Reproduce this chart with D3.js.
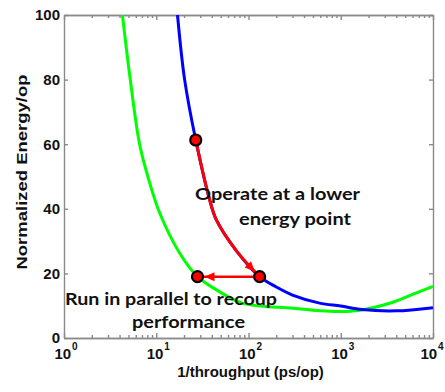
<!DOCTYPE html>
<html>
<head>
<meta charset="utf-8">
<script src="https://cdn.jsdelivr.net/npm/d3@7"></script>
<style>
  body { margin: 0; background: #fff; }
  svg { display: block; }
</style>
</head>
<body>
<div id="chart"></div>
<script>
// curve samples (x = 1/throughput ps/op, y = normalized energy/op)
var greenX = [4.3, 5.2, 6.6, 8.3, 10.9, 17.9, 28, 45, 86, 300, 600, 1000, 1700, 3600, 6000, 10000];
var greenY = [100, 80.5, 60, 49, 38.7, 26.3, 19, 14.9, 10.8, 9.2, 8.4, 8.2, 8.7, 11, 13.5, 16];

var blueX = [17, 20.3, 26.8, 38, 45, 74, 132, 200, 300, 590, 1000, 1700, 4000, 10000];
var blueY = [100, 80, 61.3, 42.7, 36.5, 27, 19, 15.8, 13.3, 10.8, 9.9, 8.8, 8.4, 9.4];

// red highlighted stretch of the blue curve (index range) and the marked points
var redFrom = 2, redTo = 6;
var pointX = [26.8, 132, 28];
var pointY = [61.3, 19, 19];

var xMajor = [1, 10, 100, 1000, 10000];
var yTicks = [0, 20, 40, 60, 80, 100];

var width = 445, height = 392;
var margin = {top: 15, right: 12, bottom: 54, left: 64};

var svg = d3.select("#chart").append("svg")
    .attr("width", width)
    .attr("height", height);

var x = d3.scaleLog()
    .domain([1, 10000])
    .range([margin.left, width - margin.right]);

var y = d3.scaleLinear()
    .domain([0, 100])
    .range([height - margin.bottom, margin.top]);

var xMinor = [];
xMajor.slice(0, -1).forEach(function (d) {
    for (var k = 2; k < 10; k++) xMinor.push(d * k);
});

var axisColor = "#8a8a8a";

svg.append("defs").append("clipPath")
    .attr("id", "clip")
    .append("rect")
    .attr("x", x.range()[0])
    .attr("y", y.range()[1])
    .attr("width", x.range()[1] - x.range()[0])
    .attr("height", y.range()[0] - y.range()[1]);

var marker = svg.select("defs").append("marker")
    .attr("id", "head")
    .attr("viewBox", "-2 -6 24 12")
    .attr("markerWidth", 24)
    .attr("markerHeight", 12)
    .attr("markerUnits", "userSpaceOnUse")
    .attr("refX", 17)
    .attr("refY", 0)
    .attr("orient", "auto");
marker.append("path")
    .attr("d", "M0,-4.5L10,0L0,4.5Z")
    .attr("fill", "#ff0000");

// axes: ticks point inward
function styleAxis(g) {
    g.selectAll("path, line").attr("stroke", axisColor).attr("stroke-width", 1.4);
    g.selectAll("text").remove();
}

svg.append("g")
    .attr("transform", "translate(0," + y(0) + ")")
    .call(d3.axisBottom(x).tickValues(xMinor).tickSizeInner(-3).tickSizeOuter(0).tickFormat(""))
    .call(styleAxis);
svg.append("g")
    .attr("transform", "translate(0," + y(0) + ")")
    .call(d3.axisBottom(x).tickValues(xMajor).tickSizeInner(-5).tickSizeOuter(0).tickFormat(""))
    .call(styleAxis);
svg.append("g")
    .attr("transform", "translate(0," + y(100) + ")")
    .call(d3.axisTop(x).tickValues(xMinor).tickSizeInner(-3).tickSizeOuter(0).tickFormat(""))
    .call(styleAxis);
svg.append("g")
    .attr("transform", "translate(0," + y(100) + ")")
    .call(d3.axisTop(x).tickValues(xMajor).tickSizeInner(-5).tickSizeOuter(0).tickFormat(""))
    .call(styleAxis);
svg.append("g")
    .attr("transform", "translate(" + x(1) + ",0)")
    .call(d3.axisLeft(y).tickValues(yTicks).tickSizeInner(-4).tickSizeOuter(0).tickFormat(""))
    .call(styleAxis);
svg.append("g")
    .attr("transform", "translate(" + x(10000) + ",0)")
    .call(d3.axisRight(y).tickValues(yTicks).tickSizeInner(-4).tickSizeOuter(0).tickFormat(""))
    .call(styleAxis);

// tick labels
svg.append("g").selectAll("text")
    .data(yTicks)
    .enter().append("text")
    .attr("x", x(1) - 4)
    .attr("y", function (d) { return y(d); })
    .attr("dy", "0.36em")
    .attr("text-anchor", "end")
    .style("font-family", "Liberation Sans, Arial, sans-serif")
    .style("font-weight", "bold")
    .style("font-size", "15px")
    .style("fill", "#111")
    .text(function (d) { return d; });

var xl = svg.append("g").selectAll("text")
    .data(xMajor)
    .enter().append("text")
    .attr("x", function (d) { return x(d) + 2; })
    .attr("y", y(0) + 21)
    .attr("text-anchor", "middle")
    .style("font-family", "Liberation Sans, Arial, sans-serif")
    .style("font-weight", "bold")
    .style("font-size", "15px")
    .style("fill", "#111");
xl.append("tspan").text("10");
xl.append("tspan")
    .attr("dx", 1)
    .attr("dy", -9)
    .style("font-size", "10px")
    .text(function (d) { return Math.round(Math.log10(d)); });
xl.filter(function (d) { return d === 10000; })
    .attr("x", function (d) { return x(d) - 1; });

// axis titles
svg.append("text")
    .attr("x", (x(1) + x(10000)) / 2 + 2)
    .attr("y", height - 15)
    .attr("text-anchor", "middle")
    .style("font-family", "Liberation Sans, Arial, sans-serif")
    .style("font-weight", "bold")
    .style("font-size", "15px")
    .style("fill", "#111")
    .text("1/throughput (ps/op)");

svg.append("text")
    .attr("transform", "translate(27,172) rotate(-90)")
    .attr("text-anchor", "middle")
    .attr("textLength", 195)
    .attr("lengthAdjust", "spacingAndGlyphs")
    .style("font-family", "Liberation Sans, Arial, sans-serif")
    .style("font-weight", "bold")
    .style("font-size", "14px")
    .style("fill", "#111")
    .text("Normalized Energy/op");

// curves
var line = d3.line()
    .x(function (d) { return x(d[0]); })
    .y(function (d) { return y(d[1]); })
    .curve(d3.curveCatmullRom.alpha(0.5));

var green = d3.zip(greenX, greenY);
var blue = d3.zip(blueX, blueY);

var plot = svg.append("g").attr("clip-path", "url(#clip)");

plot.append("path")
    .attr("d", line(green))
    .attr("fill", "none")
    .attr("stroke", "#00ff00")
    .attr("stroke-width", 3);

plot.append("path")
    .attr("d", line(blue))
    .attr("fill", "none")
    .attr("stroke", "#0000ff")
    .attr("stroke-width", 3);

plot.append("path")
    .attr("d", line(blue.slice(redFrom, redTo + 1)))
    .attr("fill", "none")
    .attr("stroke", "#ff0000")
    .attr("stroke-width", 3)
    .attr("marker-end", "url(#head)");

// horizontal arrow: back to the green curve
plot.append("path")
    .attr("d", d3.line()([[x(pointX[1]), y(pointY[1])], [x(pointX[2]), y(pointY[2])]]))
    .attr("fill", "none")
    .attr("stroke", "#ff0000")
    .attr("stroke-width", 2.5)
    .attr("marker-end", "url(#head)");

svg.append("g").selectAll("circle")
    .data(d3.zip(pointX, pointY))
    .enter().append("circle")
    .attr("cx", function (d) { return x(d[0]); })
    .attr("cy", function (d) { return y(d[1]); })
    .attr("r", 5.5)
    .attr("fill", "#ff0000")
    .attr("stroke", "#000")
    .attr("stroke-width", 2.2);

// annotations
var notes = [
    {t: "Operate at a lower", x: 195, y: 200, w: 165},
    {t: "energy point", x: 239, y: 225, w: 112},
    {t: "Run in parallel to recoup", x: 65, y: 305, w: 212},
    {t: "performance", x: 132, y: 328, w: 113}
];
svg.append("g").selectAll("text")
    .data(notes)
    .enter().append("text")
    .attr("x", function (d) { return d.x; })
    .attr("y", function (d) { return d.y; })
    .attr("textLength", function (d) { return d.w; })
    .attr("lengthAdjust", "spacingAndGlyphs")
    .style("font-family", "Lato, 'Open Sans', sans-serif")
    .style("font-weight", "bold")
    .style("font-size", "17px")
    .style("fill", "#111")
    .text(function (d) { return d.t; });
</script>
</body>
</html>
